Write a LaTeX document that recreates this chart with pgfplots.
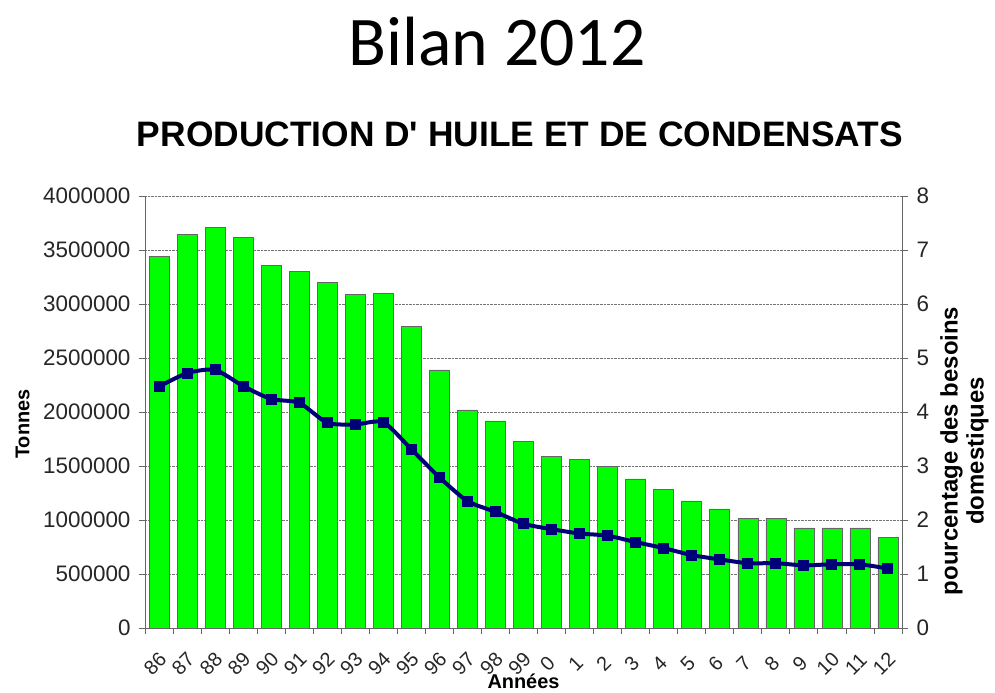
\documentclass[border=0pt]{standalone}
\usepackage{fontspec}
\setmainfont{Liberation Sans}
\newfontfamily\carlito{Carlito}
\usepackage{pgfplots}
\usepackage{pgfplotstable}
\pgfplotsset{compat=1.18}
\definecolor{barg}{RGB}{0,255,0}
\definecolor{navyline}{RGB}{0,0,120}

\pgfplotstableread{
x bar pct
0 3440000 4.47
1 3645000 4.72
2 3710000 4.78
3 3615000 4.48
4 3360000 4.24
5 3300000 4.17
6 3200000 3.80
7 3090000 3.77
8 3100000 3.81
9 2795000 3.31
10 2390000 2.79
11 2020000 2.35
12 1918000 2.15
13 1725000 1.93
14 1590000 1.83
15 1560000 1.75
16 1494000 1.71
17 1380000 1.59
18 1281000 1.48
19 1176000 1.35
20 1102000 1.27
21 1012000 1.20
22 1012000 1.20
23 926000 1.16
24 926000 1.18
25 926000 1.18
26 836000 1.10
}\data

\begin{document}
\begin{tikzpicture}
\useasboundingbox (0,0) rectangle (995bp,693bp);
\node[font=\carlito\fontsize{70}{80}\selectfont, anchor=base] at (497bp,627bp) {Bilan 2012};
\node[font=\bfseries\fontsize{35.5}{40}\selectfont, anchor=base] at (520bp,546bp) {PRODUCTION D\textquotesingle{} HUILE ET DE CONDENSATS};
\begin{axis}[
  scale only axis, width=757bp, height=432bp,
  at={(145bp,65bp)}, anchor=south west,
  xmin=-0.5, xmax=26.5, ymin=0, ymax=4000000,
  axis x line*=bottom, axis y line*=left,
  axis line style={gray!80!black},
  ytick={0,500000,...,4000000}, scaled y ticks=false,
  yticklabel style={/pgf/number format/fixed, /pgf/number format/1000 sep={}, /pgf/number format/assume math mode=true, font=\fontsize{22.5}{26}\selectfont, color=black!85, xshift=-5bp},
  ymajorgrids, grid style={densely dotted, gray!90!black, line width=0.8bp},
  xtick={0,...,26},
  xticklabels={86,87,88,89,90,91,92,93,94,95,96,97,98,99,0,1,2,3,4,5,6,7,8,9,10,11,12},
  xticklabel style={font=\fontsize{20}{22}\selectfont, color=black!85, xshift=-4bp, yshift=-30bp, rotate=45, anchor=center},
  major x tick style={draw=none},
  minor xtick={-0.5,0.5,...,26.5},
  tick align=outside, major tick length=6bp, minor tick length=6bp,
  tick style={gray!80!black, line width=0.8bp},
  ylabel={Tonnes}, ylabel style={font=\bfseries\fontsize{20}{24}\selectfont, at={(axis description cs:-0.148,0.472)}, anchor=south},
  xlabel={Années}, xlabel style={font=\bfseries\fontsize{20}{24}\selectfont, at={(rel axis cs:0.5,0)}, anchor=base, yshift=-60bp},
]
\addplot[ybar, bar width=20bp, fill=barg, draw=black!60, line width=0.6bp] table[x=x,y=bar]{\data};
\end{axis}
\begin{axis}[
  scale only axis, width=757bp, height=432bp,
  at={(145bp,65bp)}, anchor=south west,
  xmin=-0.5, xmax=26.5, ymin=0, ymax=8,
  axis x line=none, axis y line*=right,
  axis line style={gray!80!black},
  ytick={0,...,8},
  yticklabel style={font=\fontsize{22.5}{26}\selectfont, color=black!85, xshift=5bp},
  /pgf/number format/assume math mode=true,
  tick align=outside, major tick length=6bp,
  tick style={gray!80!black, line width=0.8bp},
  ylabel={pourcentage des besoins\\domestiques},
  ylabel style={align=center, font=\bfseries\fontsize{24}{26}\selectfont, at={(axis description cs:1.049,0.41)}, anchor=north, inner sep=1bp},
]
\addplot[navyline, line width=4bp, smooth, tension=0.4, mark=square*, mark size=3.5bp, mark options={solid, fill=navyline}] table[x=x,y=pct]{\data};
\end{axis}
\end{tikzpicture}
\end{document}
